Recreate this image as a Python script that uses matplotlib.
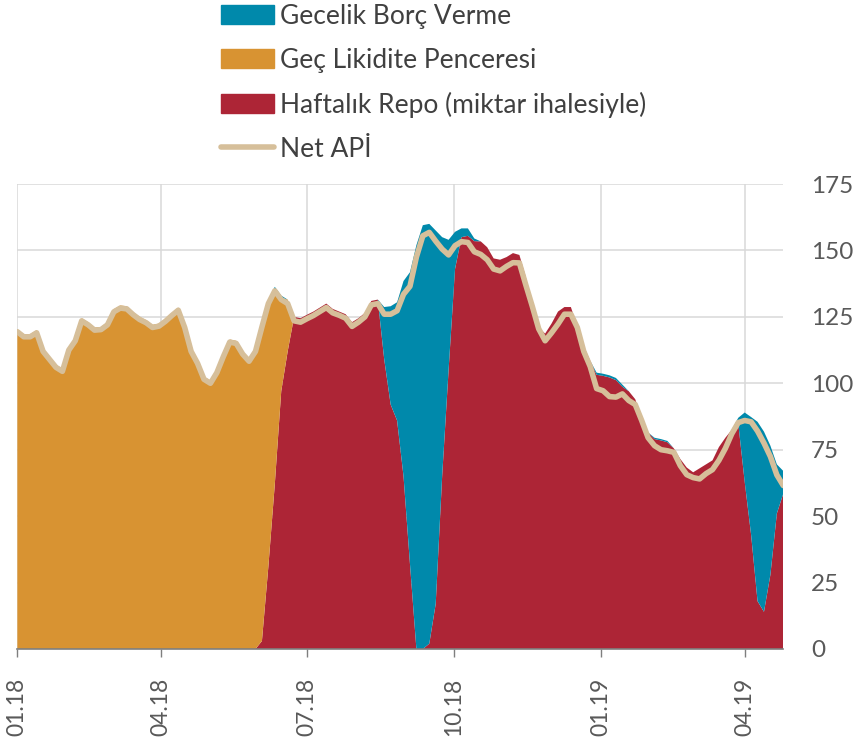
import pandas as pd
import matplotlib.pyplot as plt
import matplotlib.dates as mdates
from matplotlib.patches import Patch
from matplotlib.lines import Line2D

plt.rcParams['font.family'] = ['Lato', 'DejaVu Sans']

# values in billion TL, read roughly every 4 days from Jan 2018 to late Apr 2019
net_api = [119.4, 117.5, 117.5, 119.0, 112, 109, 106, 104.5, 112.5, 116,
           123.5, 122, 120, 120.2, 122, 126.9, 128.3, 128, 125.8, 124,
           122.8, 121, 121.5, 123.3, 125.5, 127.5, 121, 112, 107.5, 101.5,
           100, 104, 110, 115.5, 115, 111, 108.3, 112, 121.2, 130,
           134.8, 131.5, 130, 123.5, 123, 124.3, 125.5, 127, 128.5, 126.5,
           125.6, 124.5, 121.4, 123, 125, 129.5, 130, 126, 126, 127.3,
           133.5, 136.5, 147.5, 155.5, 156.8, 153.5, 150.5, 148.3, 151.8, 153.3,
           153, 149.5, 148.5, 146.5, 143, 142.3, 144, 145.4, 145.3, 137,
           129, 120.5, 116, 119, 122.3, 126, 126, 121, 112, 106.3,
           98, 97.2, 95, 94.8, 96, 93.5, 92, 86, 79.5, 76.5,
           75, 74.6, 74, 69, 65.6, 64.5, 64, 66, 67.5, 71,
           75.5, 81, 85.2, 86, 85.5, 82, 77.5, 72.4, 65.5, 61.5]

gec_likidite = [120.4, 118.5, 118.5, 120, 113, 110, 107, 105.5, 113.5, 117,
                124.5, 123, 121, 121.2, 123, 127.9, 129.3, 129, 126.8, 125,
                123.8, 122, 122.5, 124.3, 126.5, 128.5, 122, 113, 108.5, 102.5,
                101, 105, 111, 116.5, 116, 112, 109.3, 113, 119.2, 100.5,
                73.5, 35.2, 19.5, 0, 0, 0, 0, 0, 0, 0,
                0, 0, 0, 0, 0, 0, 0, 0, 0, 0,
                0, 0, 0, 0, 0, 0, 0, 0, 0, 0,
                0, 0, 0, 0, 0, 0, 0, 0, 0, 0,
                0, 0, 0, 0, 0, 0, 0, 0, 0, 0,
                0, 0, 0, 0, 0, 0, 0, 0, 0, 0,
                0, 0, 0, 0, 0, 0, 0, 0, 0, 0,
                0, 0, 0, 0, 0, 0, 0, 0, 0, 0]

haftalik_repo = [0, 0, 0, 0, 0, 0, 0, 0, 0, 0,
                 0, 0, 0, 0, 0, 0, 0, 0, 0, 0,
                 0, 0, 0, 0, 0, 0, 0, 0, 0, 0,
                 0, 0, 0, 0, 0, 0, 0, 0, 3, 31,
                 62, 97, 112, 125, 124.5, 125.8, 127, 128.5, 130, 128,
                 127, 126, 123, 124.5, 126.5, 131, 131.5, 109, 92, 86,
                 65, 32, 0, 0, 2, 17, 65, 105, 143, 155,
                 155.5, 153.5, 153.4, 151.2, 147, 146.5, 147.5, 149, 148.3, 140,
                 128, 121, 118.7, 122.5, 127, 128.7, 128.7, 121.3, 114, 108.5,
                 103.2, 102.8, 102.2, 101.2, 98.7, 97, 94, 87, 81.5, 79,
                 78.5, 77.8, 75.5, 71.5, 68.3, 66.5, 68, 69.5, 71, 76,
                 79.5, 82.5, 85, 63, 43, 18, 14, 28, 51, 58.5]

gecelik_borc = [0, 0, 0, 0, 0, 0, 0, 0, 0, 0,
                0, 0, 0, 0, 0, 0, 0, 0, 0, 0,
                0, 0, 0, 0, 0, 0, 0, 0, 0, 0,
                0, 0, 0, 0, 0, 0, 0, 0, 0, 0,
                0.8, 0.8, 0, 0, 0, 0, 0, 0, 0, 0,
                0, 0, 0, 0, 0, 0, 0, 19.7, 37, 44.5,
                73.5, 109.8, 152, 159.5, 158, 140.5, 90, 49, 14, 3.3,
                2.8, 1, 0, 0, 0, 0, 0, 0, 0, 0,
                0, 0, 0, 0, 0, 0, 0, 0, 0, 0,
                0.8, 0.8, 0.8, 0.8, 0.8, 0, 0, 0, 0, 0.5,
                0.5, 0.5, 0, 0, 0, 0, 0, 0, 0, 0,
                0, 0, 2, 26, 44.3, 67.5, 67.8, 48.5, 18.5, 8.5]

dates = pd.date_range('2018-01-01', '2019-04-25', periods=len(net_api))
tick_dates = pd.to_datetime(['2018-01-01', '2018-04-01', '2018-07-01',
                             '2018-10-01', '2019-01-01', '2019-04-01'])

c_teal = '#0089AB'
c_orange = '#D89332'
c_red = '#AD2536'
c_line = '#D6BF9A'
c_text = '#595959'

fig = plt.figure(figsize=(8.54, 7.39), dpi=100)
ax = fig.add_axes([0.0203, 0.1218, 0.8969, 0.6292])

ax.stackplot(dates, haftalik_repo, gec_likidite, gecelik_borc,
             colors=[c_red, c_orange, c_teal], linewidth=0)
ax.plot(dates, net_api, color=c_line, lw=4, solid_capstyle='round', solid_joinstyle='round')

ax.set_xlim(dates[0], dates[-1])
ax.set_ylim(0, 175)
ax.set_yticks(range(0, 176, 25))
ax.set_xticks(tick_dates)
ax.xaxis.set_major_formatter(mdates.DateFormatter('%m.%y'))

ax.set_axisbelow(True)
ax.grid(True, color='#D9D9D9', lw=1.1)
for s in ['top', 'right', 'left']:
    ax.spines[s].set_visible(False)
ax.spines['bottom'].set_color('#7F7F7F')
ax.spines['bottom'].set_linewidth(1.2)

ax.yaxis.tick_right()
ax.tick_params(axis='y', length=0, pad=20, labelsize=17.5, labelcolor=c_text)
ax.tick_params(axis='x', length=6, width=1, color='#7F7F7F', pad=15,
               labelsize=16.5, labelcolor=c_text, labelrotation=90)

handles = [Patch(color=c_teal, label='Gecelik Borç Verme'),
           Patch(color=c_orange, label='Geç Likidite Penceresi'),
           Patch(color=c_red, label='Haftalık Repo (miktar ihalesiyle)'),
           Line2D([], [], color=c_line, lw=4, solid_capstyle='round', label='Net APİ')]
leg = fig.legend(handles=handles, loc='upper left', bbox_to_anchor=(0.257, 0.997),
                 frameon=False, fontsize=19, handlelength=2.0, handletextpad=0.25,
                 labelspacing=0.72, borderpad=0.05, borderaxespad=0)
for t in leg.get_texts():
    t.set_color('#404040')

fig.savefig('out.png', dpi=100)
